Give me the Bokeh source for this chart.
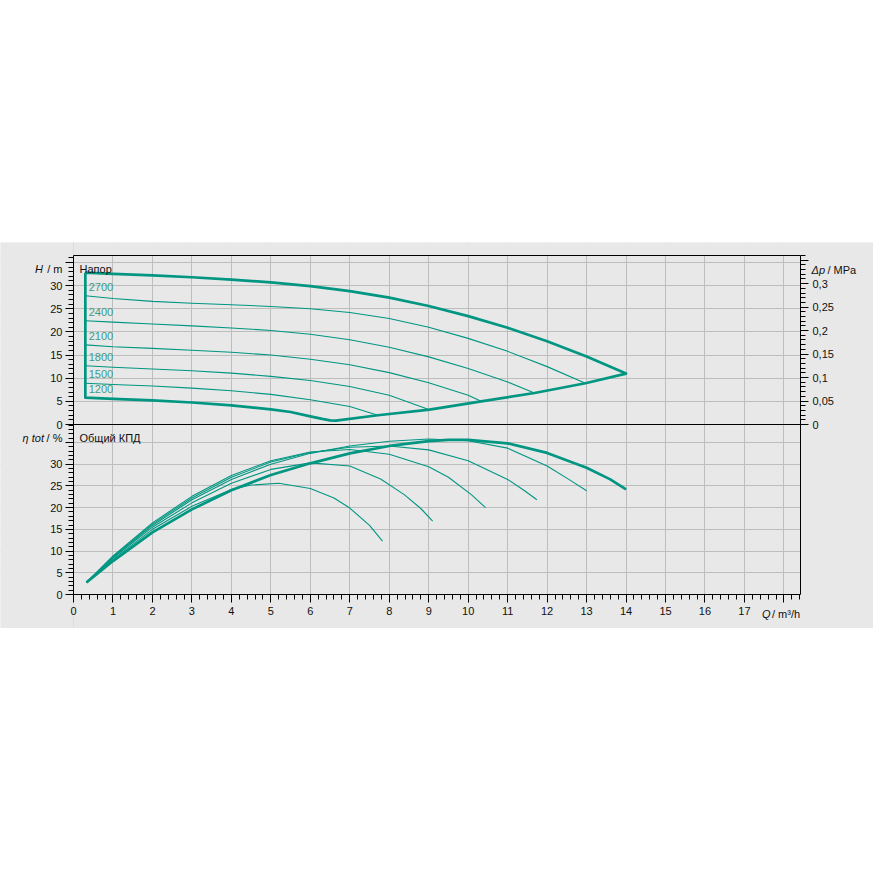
from bokeh.plotting import figure
from bokeh.models import (Range1d, LinearAxis, FixedTicker, Grid, Label, BoxAnnotation,
                          CustomJSTickFormatter, Spacer)
from bokeh.layouts import column
from bokeh.embed import file_html
from bokeh.resources import INLINE

# ---------------- data ----------------
speed_labels = ["2700", "2400", "2100", "1800", "1500", "1200"]

# head curves  Q [m3/h] -> H [m]
q_hmax = [0.3, 1, 2, 3, 4, 5, 6, 7, 8, 9, 10, 11, 12, 13, 14.0]
h_hmax = [32.8, 32.55, 32.2, 31.8, 31.3, 30.7, 29.9, 28.8, 27.4, 25.6, 23.4, 20.9, 18.0, 14.7, 11.0]

q_h2700 = [0.3, 1, 2, 3, 4, 5, 6, 7, 8, 9, 10, 11, 12, 12.97]
h_h2700 = [27.8, 27.2, 26.6, 26.2, 25.85, 25.5, 25.0, 24.2, 22.9, 21.0, 18.6, 15.8, 12.5, 8.9]
q_h2400 = [0.3, 1, 2, 3, 4, 5, 6, 7, 8, 9, 10, 11, 11.68]
h_h2400 = [22.4, 22.1, 21.7, 21.3, 20.85, 20.3, 19.5, 18.3, 16.7, 14.6, 12.1, 9.2, 6.8]
q_h2100 = [0.3, 1, 2, 3, 4, 5, 6, 7, 8, 9, 10, 10.33]
h_h2100 = [17.2, 16.8, 16.45, 16.05, 15.6, 15.0, 14.1, 12.9, 11.2, 9.0, 6.3, 5.0]
q_h1800 = [0.3, 1, 2, 3, 4, 5, 6, 7, 8, 9.02]
h_h1800 = [12.7, 12.35, 12.0, 11.6, 11.1, 10.4, 9.5, 8.2, 6.3, 3.2]
q_h1500 = [0.3, 1, 2, 3, 4, 5, 6, 7, 7.71]
h_h1500 = [8.9, 8.65, 8.3, 7.85, 7.3, 6.5, 5.35, 3.9, 2.0]
q_h1200 = [0.3, 1, 2, 3, 4, 5, 5.5, 6.0, 6.3, 6.5, 6.65]
h_h1200 = [5.8, 5.55, 5.2, 4.75, 4.15, 3.25, 2.7, 1.75, 1.2, 0.9, 0.85]

# end-of-curve envelope
q_end = [6.65, 7.71, 9.02, 10.33, 11.68, 12.97, 14.0]
h_end = [0.85, 2.0, 3.2, 5.0, 6.8, 8.9, 11.0]

# efficiency curves  Q [m3/h] -> eta tot [%]
q_emax = [0.33, 1, 2, 3, 4, 5, 6, 7, 8, 9, 9.5, 10, 11, 12, 13, 13.6, 14.0]
e_emax = [2.8, 7.7, 14.3, 19.6, 24.0, 27.5, 30.2, 32.5, 34.2, 35.3, 35.6, 35.6, 34.8, 32.6, 29.2, 26.5, 24.2]
q_e5 = [0.33, 1, 2, 3, 4, 5, 6, 7, 8, 9, 10, 11, 12, 12.55, 13.0]
e_e5 = [2.8, 8.5, 15.9, 21.8, 26.5, 30.0, 32.5, 34.2, 35.3, 35.8, 35.4, 33.7, 29.6, 26.5, 23.9]
q_e4 = [0.33, 1, 2, 3, 4, 5, 6, 7, 8, 9, 10, 11, 11.43, 11.74]
e_e4 = [2.8, 8.7, 16.2, 22.2, 27.0, 30.5, 32.7, 33.9, 34.2, 33.3, 30.8, 26.5, 23.9, 21.8]
q_e3 = [0.33, 1, 2, 3, 4, 5, 6, 7, 8, 9, 9.5, 10.08, 10.44]
e_e3 = [2.8, 8.9, 16.5, 22.6, 27.4, 30.8, 32.8, 33.4, 32.3, 29.4, 27.0, 23.0, 20.0]
q_e2 = [0.33, 1, 2, 3, 4, 5, 6, 7, 7.78, 8.38, 8.8, 9.1]
e_e2 = [2.8, 8.4, 15.5, 21.1, 25.6, 28.8, 30.3, 29.6, 26.6, 23.0, 19.8, 16.9]
q_e1 = [0.33, 1, 2, 3, 4, 4.5, 5.2, 6, 6.6, 7, 7.5, 7.83]
e_e1 = [2.8, 8.1, 15.0, 20.3, 24.2, 25.2, 25.6, 24.4, 22.2, 19.9, 15.9, 12.3]

x_ticks = list(range(0, 19))
h_ticks = [0, 5, 10, 15, 20, 25, 30, 35]
e_ticks = [0, 5, 10, 15, 20, 25, 30, 35]
dp_ticks = [0, 0.05, 0.1, 0.15, 0.2, 0.25, 0.3, 0.35]

# ---------------- styling / geometry ----------------
BG = "#e8e8e8"
GRID = "#bdbdbd"
TEAL = "#009682"
LABEL_TEAL = "#3a9c8b"
FONT = "Liberation Sans"
TXT = "#111111"
THICK = 2.7
THIN = 1.1

W, H = 873, 386            # gray band, page y 242..628
TOP = 242                  # page y of the band top
PX_L, PX_R = 73, 800       # plot area, page x
PY_T, PY_M, PY_B = 255, 424, 594   # plot area top / separator / bottom, page y
XMAX = 18.42
HMAX = 36.5
EMAX = 39.14
MPA_PER_M = 0.00986

KX = (PX_R - PX_L) / XMAX
KH = (PY_M - PY_T) / HMAX
KE = (PY_B - PY_M) / EMAX


def x_of(px):
    return (px - PX_L) / KX


def h_of(py):
    return (PY_M - py) / KH


def e_of(py):
    return (PY_B - py) / KE


p = figure(frame_width=W, frame_height=H,
           x_range=Range1d(x_of(0), x_of(W)),
           y_range=Range1d(h_of(TOP + H), h_of(TOP)),
           x_axis_location=None, y_axis_location=None,
           output_backend="svg", toolbar_location=None,
           min_border=0, min_border_left=0, min_border_right=0,
           min_border_top=0, min_border_bottom=0,
           background_fill_color=BG, border_fill_color=BG,
           outline_line_color=None)
p.extra_y_ranges = {"eta": Range1d(e_of(TOP + H), e_of(TOP)),
                    "dp": Range1d(h_of(TOP + H) * MPA_PER_M, h_of(TOP) * MPA_PER_M)}

# grids
p.add_layout(Grid(dimension=0, ticker=FixedTicker(ticks=x_ticks),
                  grid_line_color=GRID, grid_line_width=1))
p.add_layout(Grid(dimension=1, ticker=FixedTicker(ticks=h_ticks[1:]),
                  grid_line_color=GRID, grid_line_width=1))
p.add_layout(Grid(dimension=1, y_range_name="eta", ticker=FixedTicker(ticks=e_ticks[1:]),
                  grid_line_color=GRID, grid_line_width=1))

# masks so the grid stays inside the plot area
yb, yt = h_of(TOP + H), h_of(TOP)
xl, xr = x_of(0), x_of(W)
for l, r, b, t in [(xl, 0, yb, yt), (XMAX, xr, yb, yt),
                   (0, XMAX, HMAX, yt), (0, XMAX, yb, h_of(PY_B))]:
    p.add_layout(BoxAnnotation(left=l, right=r, bottom=b, top=t, level="underlay",
                               fill_color=BG, fill_alpha=1.0, line_color=None))


def style_axis(ax, standoff):
    ax.axis_line_color = "black"
    ax.axis_line_width = 1
    ax.major_tick_line_color = "black"
    ax.minor_tick_line_color = "black"
    ax.major_tick_out = 8
    ax.minor_tick_out = 5
    ax.major_tick_in = 0
    ax.minor_tick_in = 0
    ax.major_label_text_font = FONT
    ax.major_label_text_font_size = "11px"
    ax.major_label_text_color = TXT
    ax.major_label_standoff = standoff


def no_ticks():
    return FixedTicker(ticks=[], minor_ticks=[])


# x axis at the bottom of the efficiency panel
xa = LinearAxis(y_range_name="eta", fixed_location=0, bounds=(0, XMAX),
                ticker=FixedTicker(ticks=x_ticks, minor_ticks=[round(i * 0.2, 1) for i in range(93)]),
                major_label_overrides={18: ""})
style_axis(xa, 4)
p.add_layout(xa, "below")

# head axis
ha = LinearAxis(fixed_location=0, bounds=(0, HMAX),
                ticker=FixedTicker(ticks=h_ticks, minor_ticks=list(range(37))),
                major_label_overrides={35: ""})
style_axis(ha, 3)
p.add_layout(ha, "left")

# efficiency axis
ea = LinearAxis(y_range_name="eta", fixed_location=0, bounds=(0, EMAX),
                ticker=FixedTicker(ticks=e_ticks, minor_ticks=list(range(40))),
                major_label_overrides={35: ""})
style_axis(ea, 3)
p.add_layout(ea, "left")

# pressure axis (right, head panel)
da = LinearAxis(y_range_name="dp", fixed_location=XMAX, bounds=(0, HMAX * MPA_PER_M),
                ticker=FixedTicker(ticks=dp_ticks, minor_ticks=[i / 100 for i in range(37)]),
                formatter=CustomJSTickFormatter(code="""
                    if (tick > 0.32) { return ""; }
                    var s = (Math.round(tick * 100) / 100).toString();
                    return s.replace(".", ",");
                """))
style_axis(da, 4)
p.add_layout(da, "right")

# plain border lines: right side of efficiency panel, top, separator
ra = LinearAxis(y_range_name="eta", fixed_location=XMAX, bounds=(0, EMAX), ticker=no_ticks())
style_axis(ra, 4)
p.add_layout(ra, "right")
ta = LinearAxis(fixed_location=HMAX, bounds=(0, XMAX), ticker=no_ticks())
style_axis(ta, 4)
p.add_layout(ta, "above")
sa = LinearAxis(fixed_location=0, bounds=(0, XMAX), ticker=no_ticks())
style_axis(sa, 4)
p.add_layout(sa, "below")

# ---------------- head chart ----------------
outline_q = q_hmax + q_end[::-1][1:] + q_h1200[::-1][1:] + [q_hmax[0]]
outline_h = h_hmax + h_end[::-1][1:] + h_h1200[::-1][1:] + [h_hmax[0]]
p.line(outline_q, outline_h, line_color=TEAL, line_width=THICK, line_join="round")

for qq, hh in [(q_h2700, h_h2700), (q_h2400, h_h2400), (q_h2100, h_h2100),
               (q_h1800, h_h1800), (q_h1500, h_h1500)]:
    p.line(qq, hh, line_color=TEAL, line_width=THIN, line_join="round")

for txt, hh in zip(speed_labels, [h_h2700, h_h2400, h_h2100, h_h1800, h_h1500, h_h1200]):
    p.add_layout(Label(x=0.385, y=hh[0] + 1.95, text=txt, text_font=FONT,
                       text_font_size="11px", text_color=LABEL_TEAL,
                       text_align="left", text_baseline="middle"))

# ---------------- efficiency chart ----------------
for qq, ee in [(q_e1, e_e1), (q_e2, e_e2), (q_e3, e_e3), (q_e4, e_e4), (q_e5, e_e5)]:
    p.line(qq, ee, y_range_name="eta", line_color=TEAL, line_width=THIN, line_join="round")
p.line(q_emax, e_emax, y_range_name="eta", line_color=TEAL, line_width=THICK, line_join="round")


# ---------------- texts (positions in page pixels, mapped on the head scale) ----------------
def add_text(px, py, text, italic=False, align="left", color=TXT):
    p.add_layout(Label(x=x_of(px), y=h_of(py), text=text,
                       text_font=FONT, text_font_size="11px",
                       text_font_style="italic" if italic else "normal",
                       text_color=color, text_align=align, text_baseline="middle"))


add_text(79, 268, "Напор")
add_text(79, 437, "Общий КПД")

add_text(42.5, 268, "H", italic=True, align="right")
add_text(62, 268, "/ m", align="right")

add_text(43.5, 437, "η tot", italic=True, align="right")
add_text(62, 437, "/ %", align="right")

add_text(811, 269, "Δp", italic=True)
add_text(827, 269, "/ MPa")

add_text(761.5, 613, "Q", italic=True)
add_text(771.5, 613, "/ m³/h")

layout = column(Spacer(width=W, height=TOP), p)
open("out.html", "w").write(file_html(layout, INLINE))
